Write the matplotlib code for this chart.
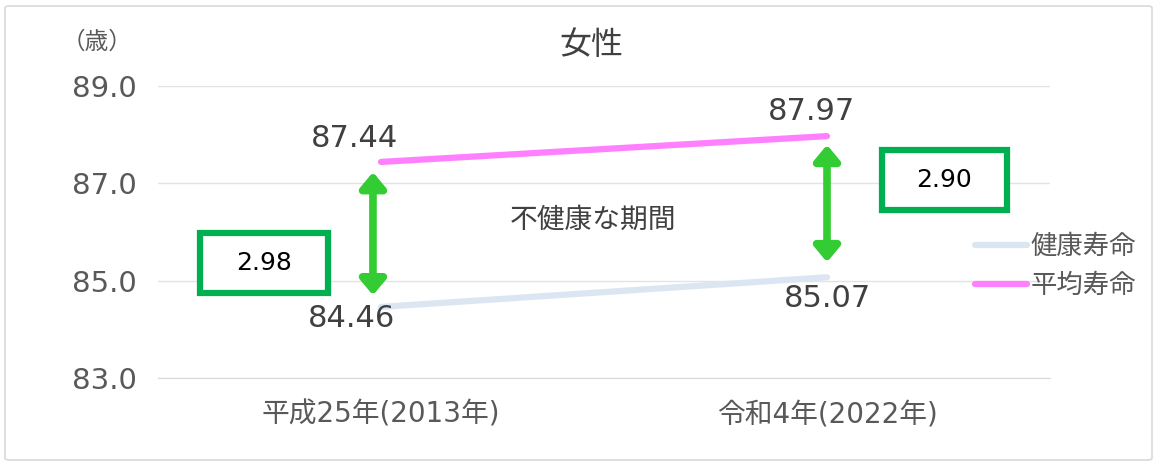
import matplotlib
matplotlib.use("Agg")
import matplotlib.pyplot as plt
from matplotlib.patches import Rectangle, FancyBboxPatch

plt.rcParams['font.family'] = ['Noto Sans CJK JP', 'DejaVu Sans']

categories = ["平成25年(2013年)", "令和4年(2022年)"]
healthy = [84.46, 85.07]
average = [87.44, 87.97]
gaps = ["2.98", "2.90"]
series_names = ["健康寿命", "平均寿命"]
yticks = [83.0, 85.0, 87.0, 89.0]

fig = plt.figure(figsize=(11.58, 4.63), dpi=100)
ax = fig.add_axes([158/1158, 1-378/463, (1050-158)/1158, (378-86)/463])

# outer border
fig.patches.append(FancyBboxPatch((5/1158, 3/463), 1147/1158, 454/463,
                                  boxstyle="round,pad=0,rounding_size=0.004",
                                  transform=fig.transFigure, fill=False,
                                  edgecolor="#D9D9D9", linewidth=1.2))

x = list(range(len(categories)))
l1, = ax.plot(x, healthy, color="#DCE6F2", lw=4.5, solid_capstyle="round", label=series_names[0], zorder=3)
l2, = ax.plot(x, average, color="#FF80FF", lw=4.5, solid_capstyle="round", label=series_names[1], zorder=3)

ax.set_xlim(-0.5, 1.5)
ax.set_ylim(83, 89)
ax.set_yticks(yticks)
ax.set_yticklabels([f"{v:.1f}" for v in yticks], fontsize=21, color="#595959", family=['DejaVu Sans'])
ax.set_xticks(x)
ax.set_xticklabels(categories, fontsize=20, color="#595959", family=['DejaVu Sans', 'Noto Sans CJK JP'])
ax.tick_params(length=0)
ax.tick_params(axis='y', pad=15)
ax.tick_params(axis='x', pad=16)
ax.grid(axis='y', color="#E3E3E3", lw=1)
for s in ["top", "right", "left"]:
    ax.spines[s].set_visible(False)
ax.spines["bottom"].set_color("#D9D9D9")
ax.set_axisbelow(True)

lab_kw = dict(fontsize=22, color="#404040", ha="center", va="center", family=['DejaVu Sans'])
ax.annotate(f"{average[0]:.2f}", (x[0], average[0]), xytext=(-19, 17), textcoords="offset points", **lab_kw)
ax.annotate(f"{healthy[0]:.2f}", (x[0], healthy[0]), xytext=(-21, -8), textcoords="offset points", **lab_kw)
ax.annotate(f"{average[1]:.2f}", (x[1], average[1]), xytext=(-11, 18), textcoords="offset points", **lab_kw)
ax.annotate(f"{healthy[1]:.2f}", (x[1], healthy[1]), xytext=(0, -15), textcoords="offset points", **lab_kw)

# double arrows for unhealthy period
arrow_kw = dict(arrowstyle="<|-|>,head_length=0.9,head_width=0.75", color="#33CC33", lw=5.5, shrinkA=0, shrinkB=0)
ax.annotate("", xy=(x[0] - 0.018, healthy[0] + 0.24), xytext=(x[0] - 0.018, average[0] - 0.21), arrowprops=arrow_kw)
ax.annotate("", xy=(x[1], healthy[1] + 0.31), xytext=(x[1], average[1] - 0.18), arrowprops=arrow_kw)

ax.text(0.475, 86.25, "不健康な期間", fontsize=20, color="#404040", ha="center", va="center")

# gap boxes
boxes = [(-0.405, 84.75, 0.286, 1.23), (1.123, 86.45, 0.28, 1.235)]
for (bx, by, bw, bh), g in zip(boxes, gaps):
    ax.add_patch(Rectangle((bx, by), bw, bh, fill=True, facecolor="white", edgecolor="#00B050",
                           lw=4.5, zorder=4, clip_on=False))
    ax.text(bx + bw/2, by + bh/2, g, fontsize=18, color="#000000", ha="center", va="center",
            family=['DejaVu Sans'], zorder=5)

fig.text(591/1158, 1-45/463, "女性", fontsize=23, color="#404040", ha="center", va="center")
fig.text(97/1158, 1-42/463, "（歳）", fontsize=17, color="#595959", ha="center", va="center")

leg = fig.legend(handles=[l1, l2], loc="center left", bbox_to_anchor=(962/1158, 1-266/463),
                 frameon=False, fontsize=19, handlelength=1.95, handletextpad=0.15,
                 labelspacing=0.45, borderpad=0)
for t in leg.get_texts():
    t.set_color("#595959")

fig.savefig("out.png", dpi=100)
